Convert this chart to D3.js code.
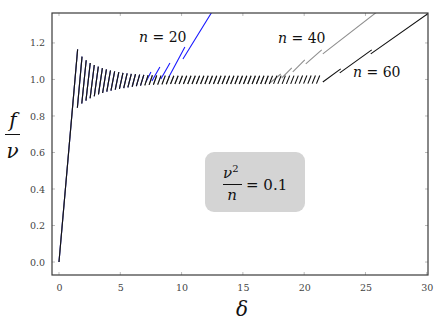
<!DOCTYPE html>
<html><head><meta charset="utf-8">
<script src="https://cdn.jsdelivr.net/npm/d3@7"></script>
<style>body{margin:0;background:#fff}svg{display:block}
text{font-family:"DejaVu Serif","Liberation Serif","Times New Roman",serif;}
</style>
</head><body>
<script>
// ---- data ----
// each tooth is a rising segment from (troughDelta, troughF) to (peakDelta, peakF)
const peakDelta = [1.52,1.88,2.22,2.55,2.88,3.21,3.54,3.87,4.20,4.54,4.88,5.22,5.56,5.90,6.24,6.58,6.92,7.27,7.62,7.97,8.32,8.67,9.02,9.37,9.72,10.07,10.42,10.77,11.12,11.47,11.82,12.17,12.52,12.87,13.22,13.57,13.92,14.27,14.62,14.97,15.32,15.67,16.02,16.37,16.72,17.07,17.42,17.77,18.12,18.47,18.82,19.17,19.52,19.87,20.22,20.57,20.92,21.27];
const peakF = [1.165,1.125,1.105,1.090,1.079,1.070,1.062,1.055,1.049,1.044,1.040,1.036,1.033,1.031,1.029,1.027,1.025,1.024,1.023,1.022,1.021,1.021,1.020,1.020,1.020,1.020,1.020,1.020,1.020,1.020,1.020,1.020,1.020,1.020,1.020,1.020,1.020,1.020,1.020,1.020,1.020,1.020,1.020,1.020,1.020,1.020,1.020,1.021,1.021,1.021,1.021,1.021,1.021,1.022,1.022,1.022,1.022,1.022];
const troughDelta = [0,1.50,1.86,2.20,2.54,2.88,3.22,3.56,3.90,4.24,4.59,4.93,5.28,5.62,5.97,6.31,6.65,7.00,7.35,7.70,8.05,8.40,8.75,9.10,9.45,9.80,10.15,10.50,10.85,11.20,11.55,11.90,12.25,12.60,12.95,13.30,13.65,14.00,14.35,14.70,15.05,15.40,15.75,16.10,16.45,16.80,17.15,17.50,17.85,18.20,18.55,18.90,19.25,19.60,19.95,20.30,20.65,21.00];
const troughF = [0,0.845,0.868,0.884,0.897,0.908,0.918,0.926,0.933,0.939,0.944,0.949,0.953,0.957,0.960,0.963,0.966,0.968,0.970,0.971,0.972,0.973,0.974,0.975,0.975,0.975,0.975,0.975,0.975,0.975,0.975,0.975,0.975,0.975,0.975,0.975,0.975,0.975,0.975,0.975,0.975,0.975,0.975,0.975,0.975,0.975,0.975,0.976,0.976,0.976,0.976,0.976,0.976,0.977,0.977,0.977,0.977,0.977];

const seriesNames = ["n = 20","n = 40","n = 60"];
const seriesN = [20,40,60];
const seriesTeeth = [17,46,58];
const seriesColors = ["#1a1aff","#8f8f8f","#111111"];

// tails after the plateau: pairs of (start, end) points of rising segments
const blueTailDelta = [7.09,7.50,7.58,8.23,8.31,9.05,8.96,10.27,10.11,12.80];
const blueTailF     = [0.986,1.041,0.992,1.068,1.003,1.090,1.014,1.178,1.112,1.405];
const grayTailDelta = [17.22,18.09,18.17,18.99,19.07,20.05,20.13,21.43,21.52,26.57];
const grayTailF     = [0.981,1.030,1.008,1.063,1.041,1.107,1.085,1.162,1.140,1.403];
const blackTailDelta = [21.52,22.98,22.90,25.51,25.43,30.40];
const blackTailF     = [0.986,1.058,1.036,1.162,1.140,1.375];

const xTicks = [0,5,10,15,20,25,30];
const yTicks = [0.0,0.2,0.4,0.6,0.8,1.0,1.2];
const xDomain = [-0.57, 30.1];
const yDomain = [-0.071, 1.364];

// ---- drawing ----
const W = 447, H = 327;
const L = 52, R = 428, T = 13, B = 275;
const svg = d3.select("body").append("svg").attr("width", W).attr("height", H);
const x = d3.scaleLinear().domain(xDomain).range([L, R]);
const y = d3.scaleLinear().domain(yDomain).range([B, T]);

svg.append("defs").append("clipPath").attr("id","clip")
  .append("rect").attr("x",L).attr("y",T).attr("width",R-L).attr("height",B-T);

// ticks (inward, light) on all four sides
const tickCol = "#bbbbbb";
const g = svg.append("g");
xTicks.forEach(t => {
  g.append("line").attr("x1",x(t)).attr("x2",x(t)).attr("y1",B).attr("y2",B-3).attr("stroke",tickCol);
  g.append("line").attr("x1",x(t)).attr("x2",x(t)).attr("y1",T).attr("y2",T+3).attr("stroke",tickCol);
});
yTicks.forEach(t => {
  g.append("line").attr("y1",y(t)).attr("y2",y(t)).attr("x1",L).attr("x2",L+3).attr("stroke",tickCol);
  g.append("line").attr("y1",y(t)).attr("y2",y(t)).attr("x1",R).attr("x2",R-3).attr("stroke",tickCol);
});
const xAxis = d3.axisBottom(x).tickValues(xTicks).tickSize(0).tickPadding(9).tickFormat(d3.format("d"));
const yAxis = d3.axisLeft(y).tickValues(yTicks).tickSize(0).tickPadding(7).tickFormat(d3.format(".1f"));
const gx = svg.append("g").attr("transform",`translate(0,${B})`).call(xAxis);
const gy = svg.append("g").attr("transform",`translate(${L},0)`).call(yAxis);
[gx,gy].forEach(a => {
  a.attr("font-family", null);
  a.select(".domain").remove();
  a.selectAll("text").attr("font-size",9.5).attr("fill","#444");
});

// segments
function buildSegments(nTeeth, tailD, tailF) {
  const segs = [];
  for (let k = 0; k < nTeeth; k++) {
    segs.push([[troughDelta[k], troughF[k]], [peakDelta[k], peakF[k]]]);
  }
  for (let i = 0; i + 1 < tailD.length; i += 2) {
    segs.push([[tailD[i], tailF[i]], [tailD[i+1], tailF[i+1]]]);
  }
  return segs;
}
const tails = [[blueTailDelta,blueTailF],[grayTailDelta,grayTailF],[blackTailDelta,blackTailF]];
const line = d3.line().x(d => x(d[0])).y(d => y(d[1]));
const plot = svg.append("g").attr("clip-path","url(#clip)");
seriesTeeth.forEach((nT,i) => {
  const segs = buildSegments(nT, tails[i][0], tails[i][1]);
  plot.append("path").attr("d", segs.map(s => line(s)).join(""))
    .attr("fill","none").attr("stroke",seriesColors[i]).attr("stroke-width",1.1);
});

// frame
svg.append("rect").attr("x",L).attr("y",T).attr("width",R-L).attr("height",B-T)
  .attr("fill","none").attr("stroke","#3a3a3a").attr("stroke-width",1.2);

// series labels
const labelPos = [[139,42],[278,43],[353,77]];
seriesNames.forEach((s,i) => {
  const t = svg.append("text").attr("x",labelPos[i][0]).attr("y",labelPos[i][1])
    .attr("font-size",14).attr("fill","#111");
  t.append("tspan").attr("font-style","italic").text("n");
  t.append("tspan").text(" = " + seriesN[i]);
});

// axis labels
svg.append("text").attr("x",13).attr("y",127).attr("text-anchor","middle")
  .attr("font-style","italic").attr("font-size",20).attr("fill","#111").text("f");
svg.append("line").attr("x1",5).attr("x2",20).attr("y1",134.5).attr("y2",134.5).attr("stroke","#111").attr("stroke-width",1);
svg.append("text").attr("x",12.5).attr("y",158).attr("text-anchor","middle")
  .attr("font-style","italic").attr("font-size",20).attr("fill","#111").text("ν");
svg.append("text").attr("x",242).attr("y",316).attr("text-anchor","middle")
  .attr("font-style","italic").attr("font-size",20).attr("fill","#111").text("δ");

// annotation box
svg.append("rect").attr("x",205).attr("y",152).attr("width",100).attr("height",60)
  .attr("rx",9).attr("fill","#d4d4d4");
const ann = svg.append("text").attr("x",223).attr("y",178).attr("font-size",15).attr("fill","#111");
ann.append("tspan").attr("font-style","italic").text("ν");
ann.append("tspan").attr("dy",-6).attr("font-size",10).text("2");
svg.append("line").attr("x1",223).attr("x2",242).attr("y1",184.5).attr("y2",184.5).attr("stroke","#111");
svg.append("text").attr("x",232).attr("y",200).attr("text-anchor","middle")
  .attr("font-style","italic").attr("font-size",15).attr("fill","#111").text("n");
svg.append("text").attr("x",246).attr("y",190).attr("font-size",15).attr("fill","#111").text("= 0.1");
</script>
</body></html>
